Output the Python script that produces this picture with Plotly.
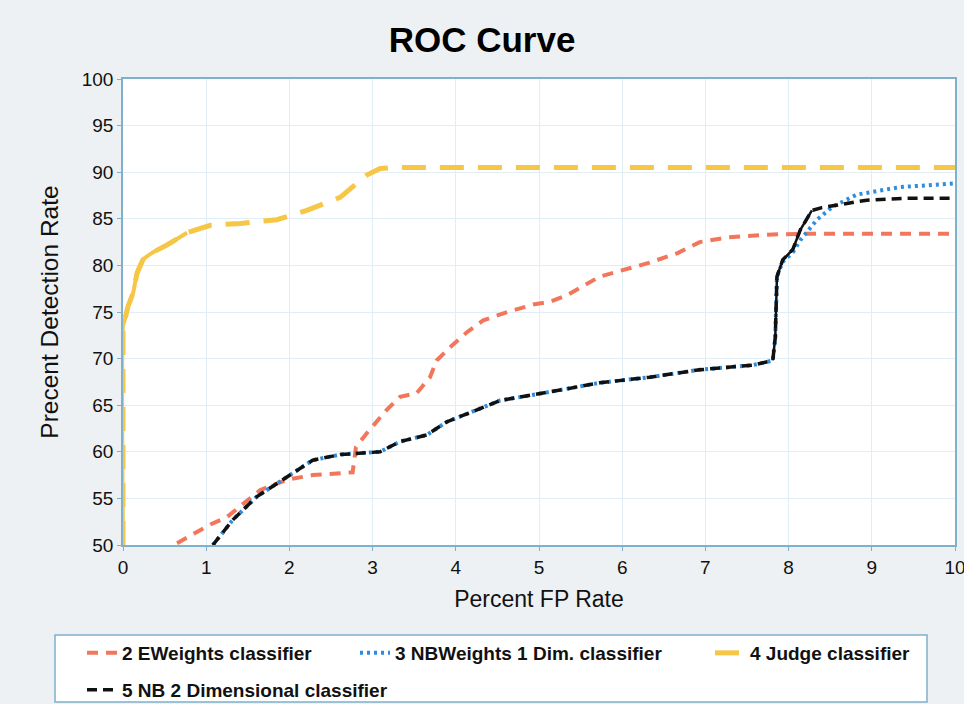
import plotly.graph_objects as go

# ROC curves: false-positive rate (%) vs detection rate (%)
eweights_fp = [0.65, 1.05, 1.25, 1.65, 1.97, 2.28, 2.76, 2.80, 2.93, 3.17, 3.33, 3.53, 3.69, 3.77,
               3.93, 4.13, 4.33, 4.62, 4.93, 5.13, 5.34, 5.73, 6.33, 6.66, 6.93, 7.26, 7.74, 8.2, 10.0]
eweights_dr = [50.2, 52.2, 53.0, 55.9, 57.0, 57.5, 57.8, 60.5, 62.0, 64.5, 65.9, 66.3, 68.0, 69.8,
               71.2, 72.8, 74.1, 75.0, 75.8, 76.1, 76.8, 78.8, 80.3, 81.3, 82.5, 83.0, 83.3, 83.4, 83.4]

nbw1_fp = [1.08, 1.32, 1.61, 1.97, 2.28, 2.61, 3.09, 3.33, 3.65, 3.89, 4.53, 5.05, 5.73, 6.33,
           6.93, 7.57, 7.81, 7.84, 7.86, 7.93, 8.05, 8.14, 8.34, 8.53, 8.82, 9.34, 10.0]
nbw1_dr = [50.0, 52.7, 55.2, 57.3, 59.1, 59.7, 60.0, 61.1, 61.8, 63.2, 65.5, 66.3, 67.4, 68.0,
           68.8, 69.3, 69.8, 72.3, 78.8, 80.4, 81.4, 82.7, 84.9, 86.3, 87.6, 88.4, 88.8]

judge_fp = [0.0, 0.0, 0.02, 0.06, 0.12, 0.17, 0.24, 0.36, 0.53, 0.77, 1.05, 1.41, 1.85, 2.21,
            2.61, 2.76, 2.93, 3.09, 3.3, 10.0]
judge_dr = [50.0, 73.5, 74.1, 75.6, 77.0, 79.2, 80.6, 81.4, 82.2, 83.5, 84.3, 84.5, 84.9, 85.9,
            87.3, 88.4, 89.7, 90.4, 90.5, 90.5]

nb2_fp = [1.08, 1.32, 1.61, 1.97, 2.28, 2.61, 3.09, 3.33, 3.65, 3.89, 4.53, 5.05, 5.73, 6.33,
          6.93, 7.57, 7.81, 7.84, 7.86, 7.93, 8.05, 8.14, 8.28, 8.40, 8.94, 9.4, 10.0]
nb2_dr = [50.0, 52.7, 55.2, 57.3, 59.1, 59.7, 60.0, 61.1, 61.8, 63.2, 65.5, 66.3, 67.4, 68.0,
          68.8, 69.3, 69.8, 72.3, 78.8, 80.6, 81.7, 83.8, 85.9, 86.2, 87.0, 87.2, 87.2]

series_names = ["2 EWeights classifier", "3 NBWeights 1 Dim. classifier",
                "4 Judge classifier", "5 NB 2 Dimensional classifier"]
x_ticks = [0, 1, 2, 3, 4, 5, 6, 7, 8, 9, 10]
y_ticks = [50, 55, 60, 65, 70, 75, 80, 85, 90, 95, 100]

FONT = "Liberation Sans, Arial, sans-serif"
RED, BLUE, YELLOW, BLACK = "#f2765c", "#2f8ddf", "#f6c646", "#111111"

fig = go.Figure()

# densely sampled stretches of a curve render as a continuous stroke
fig.add_trace(go.Scatter(x=judge_fp[:10], y=judge_dr[:10], mode="lines", showlegend=False,
                         hoverinfo="skip", line=dict(color=YELLOW, width=4, shape="spline",
                                                     smoothing=0.6)))
fig.add_trace(go.Scatter(x=eweights_fp, y=eweights_dr, mode="lines", name=series_names[0],
                         line=dict(color=RED, width=4, dash="11px,8px"), legend="legend"))
fig.add_trace(go.Scatter(x=nbw1_fp, y=nbw1_dr, mode="lines", name=series_names[1],
                         line=dict(color=BLUE, width=4, dash="3px,4px"), legend="legend2"))
fig.add_trace(go.Scatter(x=judge_fp, y=judge_dr, mode="lines", name=series_names[2],
                         line=dict(color=YELLOW, width=5, dash="24px,14px"), legend="legend3"))
fig.add_trace(go.Scatter(x=nb2_fp, y=nb2_dr, mode="lines", name=series_names[3],
                         line=dict(color=BLACK, width=3.5, dash="10px,6px"), legend="legend4"))
fig.add_trace(go.Scatter(x=nb2_fp[16:23], y=nb2_dr[16:23], mode="lines", showlegend=False,
                         hoverinfo="skip", line=dict(color=BLACK, width=2.5)))

axis_common = dict(showgrid=True, gridcolor="#e2eef5", gridwidth=1, showline=True,
                   linecolor="#7fb0cc", linewidth=1.5, mirror=True, ticks="outside",
                   ticklen=4, tickcolor="#7fb0cc", zeroline=False, automargin=False,
                   ticklabeloverflow="allow",
                   tickfont=dict(family=FONT, size=19, color="#111"))

fig.update_xaxes(range=[0, 10], tickvals=x_ticks, ticktext=[str(v) for v in x_ticks],
                 title=dict(text="Percent FP Rate", font=dict(family=FONT, size=23, color="#111"),
                            standoff=14),
                 **axis_common)
fig.update_yaxes(range=[50, 100], tickvals=y_ticks, ticktext=[str(v) for v in y_ticks],
                 title=dict(text="Precent Detection Rate", font=dict(family=FONT, size=24.5, color="#111"),
                            standoff=16),
                 **axis_common)

# plot area in pixels: x 123..955, y 79..545
PX0, PW, PY1, PH = 123, 832, 545, 466


def px_x(p):
    return (p - PX0) / PW


def px_y(p):
    return (PY1 - p) / PH


legend_font = dict(family=FONT, size=19, color="#111", weight="bold")


def legend_at(text_left, row_mid):
    return dict(orientation="h", x=px_x(text_left - 42), xanchor="left",
                y=px_y(row_mid), yanchor="middle", bgcolor="rgba(0,0,0,0)",
                font=legend_font, itemwidth=30, borderwidth=0)


fig.update_layout(
    width=964, height=704,
    margin=dict(l=123, r=9, t=79, b=159, autoexpand=False),
    paper_bgcolor="#eef1f3", plot_bgcolor="#ffffff",
    title=dict(text="<b>ROC Curve</b>", x=0.5, xanchor="center", y=1 - 40 / 704, yanchor="middle",
               font=dict(family=FONT, size=35, color="#000")),
    legend=legend_at(124, 653),
    legend2=legend_at(397, 653),
    legend3=legend_at(752, 653),
    legend4=legend_at(124, 690),
    shapes=[dict(type="rect", xref="paper", yref="paper", x0=px_x(55), x1=px_x(927),
                 y0=px_y(702), y1=px_y(635), line=dict(color="#7fb0cc", width=1.5),
                 fillcolor="#ffffff", layer="below")],
)

fig.write_html("out.html")
